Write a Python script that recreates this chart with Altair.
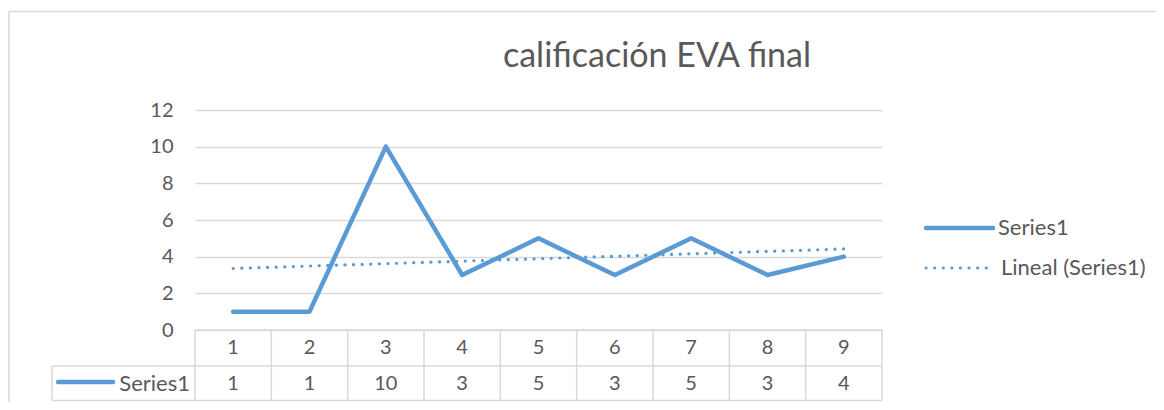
import altair as alt
import pandas as pd

# ---- data ----
categories = [1, 2, 3, 4, 5, 6, 7, 8, 9]
values = [1, 1, 10, 3, 5, 3, 5, 3, 4]
y_ticks = [0, 2, 4, 6, 8, 10, 12]
title_text = "calificación EVA final"
series_name = "Series1"
trend_name = "Lineal (Series1)"

BLUE = "#5b9bd5"
GRID = "#d9d9d9"
TEXT = "#595959"
FONT = "Lato"

W, H = 687, 220
TB = 290.5  # bottom edge of the data table (plot px)

df = pd.DataFrame({"cat": categories, "value": values})
one = pd.DataFrame({"a": [0]})

xs = alt.Scale(domain=[0.5, 9.5])
ys = alt.Scale(domain=[0, 12], nice=False)
yaxis = alt.Axis(
    values=y_ticks, tickCount=7, grid=True, gridColor=GRID, gridWidth=1.3, domain=False, ticks=False,
    labelOverlap=False, labelFontSize=20, labelColor=TEXT, labelFont=FONT, labelPadding=22, title=None)

base = alt.Chart(df)

line = base.mark_line(color=BLUE, strokeWidth=4.5, strokeCap="round", strokeJoin="round").encode(
    x=alt.X("cat:Q", scale=xs, axis=None),
    y=alt.Y("value:Q", scale=ys, axis=yaxis),
)

trend = base.transform_regression("cat", "value", method="linear").mark_line(
    color=BLUE, strokeWidth=3.2, strokeCap="round", strokeDash=[0.1, 8.5]
).encode(x=alt.X("cat:Q", scale=xs, axis=None), y=alt.Y("value:Q", scale=ys, axis=yaxis))

# table texts
cat_text = base.mark_text(fontSize=20, font=FONT, color=TEXT, baseline="middle").encode(
    x=alt.X("cat:Q", scale=xs, axis=None), y=alt.value(238), text="cat:N")
val_text = base.mark_text(fontSize=20, font=FONT, color=TEXT, baseline="middle").encode(
    x=alt.X("cat:Q", scale=xs, axis=None), y=alt.value(274), text="value:N")

# table column separators (right edge of each category column)
col_lines = base.transform_calculate(edge="datum.cat + 0.5").mark_rule(
    color=GRID, strokeWidth=1.5
).encode(x=alt.X("edge:Q", scale=xs, axis=None), y=alt.value(220), y2=alt.value(TB))

dec = alt.Chart(one)
def hrule(x1, x2, y, sw=1.5):
    return dec.mark_rule(color=GRID, strokeWidth=sw).encode(
        x=alt.value(x1), x2=alt.value(x2), y=alt.value(y))
def vrule(x, y1, y2, sw=1.5):
    return dec.mark_rule(color=GRID, strokeWidth=sw).encode(
        x=alt.value(x), y=alt.value(y1), y2=alt.value(y2))

table_lines = [
    hrule(0, W, 220), hrule(-143, W, 256), hrule(-143, W, TB),
    vrule(0, 220, TB), vrule(-143, 256, TB),
]
border = [hrule(-186, 980, -98.5), vrule(-186, -98.5, 320)]

row_key = dec.mark_rule(color=BLUE, strokeWidth=4.5, strokeCap="round").encode(
    x=alt.value(-137), x2=alt.value(-82), y=alt.value(272))
row_label = dec.mark_text(fontSize=22, font=FONT, color=TEXT, align="right", baseline="middle").encode(
    x=alt.value(-5), y=alt.value(274), text=alt.value(series_name))

leg1 = dec.mark_rule(color=BLUE, strokeWidth=4.5, strokeCap="round").encode(
    x=alt.value(731), x2=alt.value(798), y=alt.value(118))
leg1t = dec.mark_text(fontSize=22, font=FONT, color=TEXT, align="left", baseline="middle").encode(
    x=alt.value(803), y=alt.value(118), text=alt.value(series_name))
leg2 = dec.mark_rule(color=BLUE, strokeWidth=3.2, strokeCap="round", strokeDash=[0.1, 8.5]).encode(
    x=alt.value(731), x2=alt.value(793), y=alt.value(158))
leg2t = dec.mark_text(fontSize=22, font=FONT, color=TEXT, align="left", baseline="middle").encode(
    x=alt.value(806), y=alt.value(158), text=alt.value(trend_name))

title = dec.mark_text(fontSize=34, font=FONT, color=TEXT, align="center", baseline="middle").encode(
    x=alt.value(462), y=alt.value(-53), text=alt.value(title_text))

chart = alt.layer(
    *border, *table_lines, col_lines, line, trend, cat_text, val_text,
    row_key, row_label, leg1, leg1t, leg2, leg2t, title,
).properties(
    width=W, height=H,
    autosize=alt.AutoSizeParams(type="none"),
    padding={"left": 187, "top": 102, "right": 1148 - 187 - W, "bottom": 394 - 102 - H},
).configure_view(stroke=None)

chart.save("out.html", embed_options={"renderer": "svg", "actions": False})
